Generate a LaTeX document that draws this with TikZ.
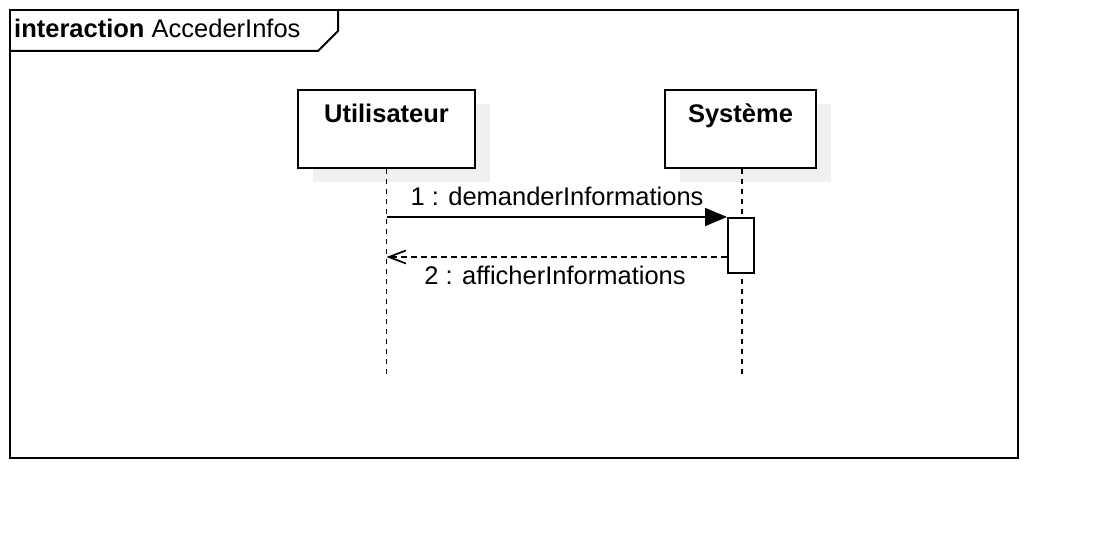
\documentclass[tikz,border=0pt]{standalone}
\usepackage{fontspec}
\setmainfont{Liberation Sans}
\usetikzlibrary{arrows.meta}
\tikzset{
  frameline/.style={draw=black, line width=2.6pt},
  headbox/.style={draw=black, fill=white, line width=2pt, minimum width=177pt, minimum height=78pt, inner sep=0pt},
  shadowbox/.style={fill=black!6, draw=none, minimum width=177pt, minimum height=78pt, inner sep=0pt},
  headtext/.style={font=\fontsize{25.5}{30}\selectfont\bfseries, anchor=base, inner sep=0pt},
  msgtext/.style={font=\fontsize{25.5}{30}\selectfont, anchor=base, inner sep=0pt},
  lifeline/.style={draw=black, line width=1.9pt, dash pattern=on 5pt off 5pt},
  actbox/.style={draw=black, fill=white, line width=2pt, minimum width=26pt, minimum height=55pt, inner sep=0pt},
  callmsg/.style={draw=black, line width=2pt, -{Triangle[length=22pt,width=18pt]}},
  replymsg/.style={draw=black, line width=1.7pt, dash pattern=on 6pt off 4pt, -{Straight Barb[length=17pt,width=13pt,line width=1.7pt]}}
}
\begin{document}
\begin{tikzpicture}[x=1pt,y=-1pt]
\useasboundingbox[fill=white] (0,0) rectangle (1108,548);
% frame
\draw[frameline] (10,10) rectangle (1018,458);
\draw[frameline, line width=2pt] (10,51) -- (318,51) -- (338,31) -- (338,10);
\node[anchor=base west, inner sep=0pt, font=\fontsize{25.5}{30}\selectfont] (title) at (14,38) {\textbf{interaction} AccederInfos};
% shadows
\node[shadowbox] (us) at (401,143) {};
\node[shadowbox, minimum width=151pt] (ss) at (755,143) {};
% heads
\node[headbox] (u) at (386.5,129) {};
\node[headbox, minimum width=151pt] (s) at (740.5,129) {};
\node[headtext] (ut) at (386.5,123) {Utilisateur};
\node[headtext] (st) at (740.5,123) {Système};
% lifelines
\coordinate (uend) at (386.5,378);
\coordinate (send) at (742,378);
\draw[lifeline] (u.south) -- (uend);
\draw[lifeline] (s.south -| send) -- (send);
% activation
\node[actbox] (act) at (741,245.5) {};
% messages
\coordinate (m1s) at (u.center |- act.north);
\draw[callmsg] (m1s) -- (act.north west);
\node[msgtext] (m1t) at (557,206) {1 : demanderInformations};
\coordinate (m2y) at (0,257);
\coordinate (m2s) at (act.west |- m2y);
\coordinate (m2e) at (u.center |- m2y);
\draw[replymsg] (m2s) -- (m2e);
\node[msgtext] (m2t) at (555,284) {2 : afficherInformations};
\end{tikzpicture}
\end{document}
